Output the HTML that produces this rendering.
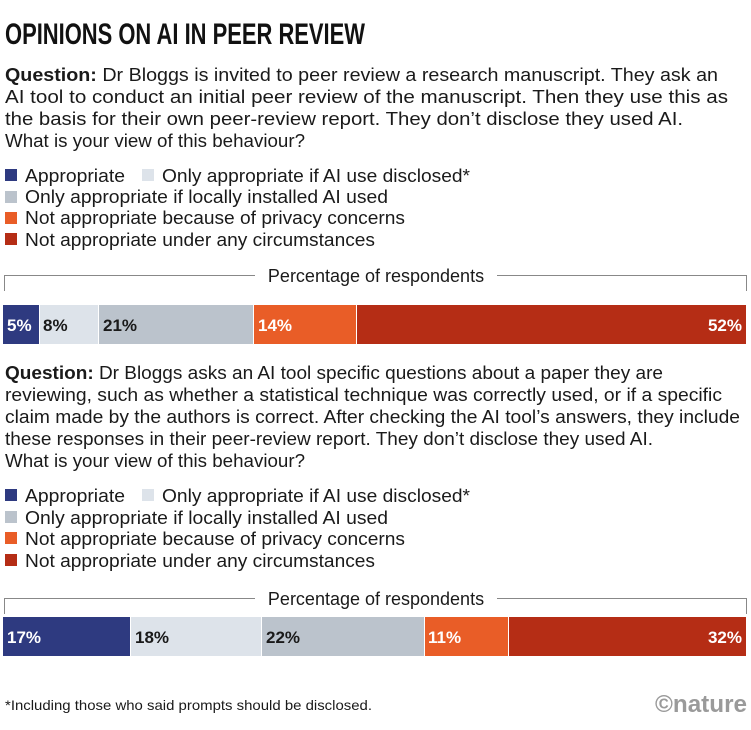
<!DOCTYPE html>
<html><head><meta charset="utf-8"><style>
html,body{margin:0;padding:0;background:#fff;}
svg{display:block;font-family:"Liberation Sans Narrow","Liberation Sans",sans-serif;}
</style></head><body>
<svg width="751" height="730" viewBox="0 0 751 730" xmlns="http://www.w3.org/2000/svg">
<rect width="751" height="730" fill="#fff"/>
<text x="5" y="44" font-size="30" font-weight="bold" fill="#111" textLength="360" lengthAdjust="spacingAndGlyphs">OPINIONS ON AI IN PEER REVIEW</text>
<g font-size="18" fill="#1a1a1a">
<text x="5" y="81" textLength="713" lengthAdjust="spacingAndGlyphs"><tspan font-weight="bold">Question:</tspan> Dr Bloggs is invited to peer review a research manuscript. They ask an</text>
<text x="5" y="103" textLength="723" lengthAdjust="spacingAndGlyphs">AI tool to conduct an initial peer review of the manuscript. Then they use this as</text>
<text x="5" y="125" textLength="678" lengthAdjust="spacingAndGlyphs">the basis for their own peer-review report. They don’t disclose they used AI.</text>
<text x="5" y="147" textLength="300" lengthAdjust="spacingAndGlyphs">What is your view of this behaviour?</text>
<rect x="5" y="169" width="12" height="12" fill="#2e3a80"/><text x="25" y="182" textLength="100" lengthAdjust="spacingAndGlyphs">Appropriate</text>
<rect x="142" y="169" width="12" height="12" fill="#dde3ea"/><text x="162" y="182" textLength="308" lengthAdjust="spacingAndGlyphs">Only appropriate if AI use disclosed*</text>
<rect x="5" y="191" width="12" height="12" fill="#bbc3cc"/><text x="25" y="203" textLength="363" lengthAdjust="spacingAndGlyphs">Only appropriate if locally installed AI used</text>
<rect x="5" y="212" width="12" height="12" fill="#e95d27"/><text x="25" y="224" textLength="380" lengthAdjust="spacingAndGlyphs">Not appropriate because of privacy concerns</text>
<rect x="5" y="233" width="12" height="12" fill="#b52d15"/><text x="25" y="246" textLength="350" lengthAdjust="spacingAndGlyphs">Not appropriate under any circumstances</text>

<text x="5" y="379" textLength="658" lengthAdjust="spacingAndGlyphs"><tspan font-weight="bold">Question:</tspan> Dr Bloggs asks an AI tool specific questions about a paper they are</text>
<text x="5" y="401" textLength="717" lengthAdjust="spacingAndGlyphs">reviewing, such as whether a statistical technique was correctly used, or if a specific</text>
<text x="5" y="423" textLength="735" lengthAdjust="spacingAndGlyphs">claim made by the authors is correct. After checking the AI tool’s answers, they include</text>
<text x="5" y="445" textLength="648" lengthAdjust="spacingAndGlyphs">these responses in their peer-review report. They don’t disclose they used AI.</text>
<text x="5" y="467" textLength="300" lengthAdjust="spacingAndGlyphs">What is your view of this behaviour?</text>
<rect x="5" y="489" width="12" height="12" fill="#2e3a80"/><text x="25" y="502" textLength="100" lengthAdjust="spacingAndGlyphs">Appropriate</text>
<rect x="142" y="489" width="12" height="12" fill="#dde3ea"/><text x="162" y="502" textLength="308" lengthAdjust="spacingAndGlyphs">Only appropriate if AI use disclosed*</text>
<rect x="5" y="511" width="12" height="12" fill="#bbc3cc"/><text x="25" y="524" textLength="363" lengthAdjust="spacingAndGlyphs">Only appropriate if locally installed AI used</text>
<rect x="5" y="532" width="12" height="12" fill="#e95d27"/><text x="25" y="545" textLength="380" lengthAdjust="spacingAndGlyphs">Not appropriate because of privacy concerns</text>
<rect x="5" y="554" width="12" height="12" fill="#b52d15"/><text x="25" y="567" textLength="350" lengthAdjust="spacingAndGlyphs">Not appropriate under any circumstances</text>
</g>

<g stroke="#888" stroke-width="1" fill="none">
<path d="M4.5 291V275.5H255M497 275.5H746.5V291"/>
<path d="M4.5 614V598.5H255M497 598.5H746.5V614"/>
</g>
<text x="376" y="282" font-size="18" text-anchor="middle" fill="#1a1a1a">Percentage of respondents</text>
<text x="376" y="605" font-size="18" text-anchor="middle" fill="#1a1a1a">Percentage of respondents</text>

<g>
<rect x="3" y="305" width="36" height="39" fill="#2e3a80"/>
<rect x="40" y="305" width="58" height="39" fill="#dde3ea"/>
<rect x="99" y="305" width="154" height="39" fill="#bbc3cc"/>
<rect x="254" y="305" width="102" height="39" fill="#e95d27"/>
<rect x="357" y="305" width="389" height="39" fill="#b52d15"/>
<g font-size="17" font-weight="bold">
<text x="7" y="331" fill="#fff">5%</text>
<text x="43" y="331" fill="#1a1a1a">8%</text>
<text x="103" y="331" fill="#1a1a1a">21%</text>
<text x="258" y="331" fill="#fff">14%</text>
<text x="742" y="331" fill="#fff" text-anchor="end">52%</text>
</g>
<rect x="3" y="617" width="127" height="39" fill="#2e3a80"/>
<rect x="131" y="617" width="130" height="39" fill="#dde3ea"/>
<rect x="262" y="617" width="162" height="39" fill="#bbc3cc"/>
<rect x="425" y="617" width="83" height="39" fill="#e95d27"/>
<rect x="509" y="617" width="237" height="39" fill="#b52d15"/>
<g font-size="17" font-weight="bold">
<text x="7" y="643" fill="#fff">17%</text>
<text x="135" y="643" fill="#1a1a1a">18%</text>
<text x="266" y="643" fill="#1a1a1a">22%</text>
<text x="428" y="643" fill="#fff">11%</text>
<text x="742" y="643" fill="#fff" text-anchor="end">32%</text>
</g>
</g>

<text x="5" y="710" font-size="14" fill="#1a1a1a" textLength="367" lengthAdjust="spacingAndGlyphs">*Including those who said prompts should be disclosed.</text>
<text x="747" y="712" font-size="24" font-weight="bold" fill="#9a9a9a" text-anchor="end" textLength="92" lengthAdjust="spacingAndGlyphs">©nature</text>
</svg>
</body></html>
